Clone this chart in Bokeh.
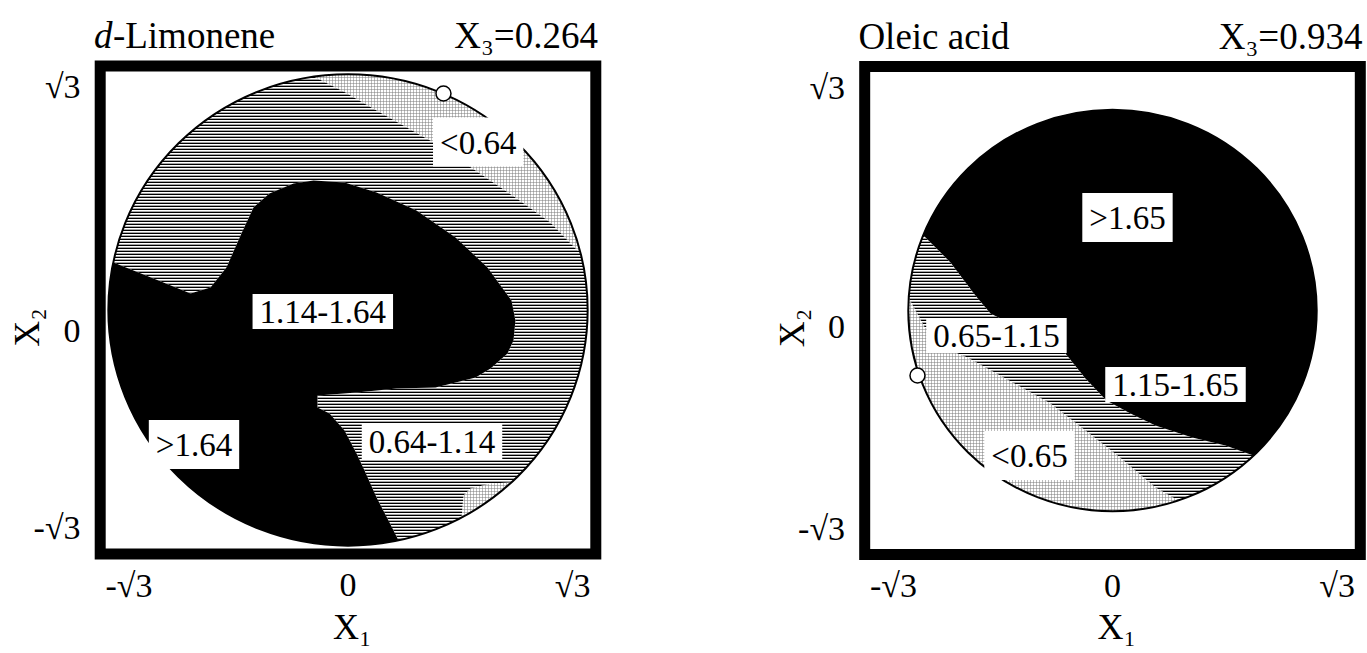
import numpy as np
from bokeh.plotting import figure
from bokeh.layouts import row
from bokeh.models import Range1d
from bokeh.core.properties import value
from bokeh.embed import file_html
from bokeh.resources import INLINE

SERIF = "Liberation Serif"
ROOT3 = np.sqrt(3.0)

# ---------------- d-Limonene, slice at X3 = 0.264 ----------------
lim_x3 = 0.264
lim_levels = ["<0.64", "0.64-1.14", "1.14-1.64", ">1.64"]
lim_label_x = [0.93, 0.60, -0.18, -1.10]
lim_label_y = [1.22, -0.955, -0.01, -0.977]

# edge of the 0.64-1.14 band against the dark core (left rim -> bottom rim)
lim_mid_x = [-1.675, -1.354, -1.125, -0.982, -0.868, -0.761, -0.675, -0.561,
             -0.389, -0.246, -0.025, 0.204, 0.489, 0.768, 0.996, 1.168,
             1.196, 1.182, 1.139, 1.018, 0.911, 0.625, 0.346, 0.061,
             -0.218, -0.218, -0.132, -0.025, 0.061, 0.118, 0.204, 0.289, 0.361]
lim_mid_y = [0.345, 0.214, 0.120, 0.163, 0.309, 0.556, 0.744, 0.846,
             0.919, 0.940, 0.926, 0.853, 0.723, 0.527, 0.309, 0.069,
             -0.076, -0.221, -0.316, -0.425, -0.490, -0.563, -0.570, -0.599,
             -0.621, -0.708, -0.752, -0.875, -1.042, -1.166, -1.362, -1.529, -1.674]

# edge of the <0.64 zone (top rim -> right rim)
lim_low_x = [-0.246, -0.018, 0.204, 0.625, 0.911, 1.196, 1.446, 1.639]
lim_low_y = [1.696, 1.580, 1.449, 1.209, 1.013, 0.817, 0.635, 0.432]

# small <0.64 pocket on the lower-right rim
lim_pocket_x = [1.161, 1.018, 0.875, 0.825, 0.811]
lim_pocket_y = [-1.253, -1.260, -1.296, -1.347, -1.507]

lim_opt_x = [0.682]
lim_opt_y = [1.572]

# ---------------- Oleic acid, slice at X3 = 0.934 ----------------
ole_x3 = 0.934
ole_levels = ["<0.65", "0.65-1.15", "1.15-1.65", ">1.65"]
ole_label_x = [-0.593, -0.829, 0.45, 0.107]
ole_label_y = [-1.053, -0.182, -0.537, 0.675]

# edge of the 0.65-1.15 band against the dark region (right rim -> left rim)
ole_mid_x = [1.007, 0.807, 0.571, 0.307, 0.129, -0.043, -0.193, -0.336,
             -0.586, -0.871, -0.979, -1.157, -1.350]
ole_mid_y = [-1.053, -0.980, -0.922, -0.835, -0.748, -0.654, -0.494, -0.312,
             -0.167, -0.022, 0.109, 0.349, 0.545]

# edge of the <0.65 zone (bottom rim -> left rim)
ole_low_x = [0.471, 0.307, 0.036, -0.193, -0.443, -0.764, -1.036, -1.193,
             -1.329, -1.457]
ole_low_y = [-1.380, -1.285, -1.053, -0.871, -0.675, -0.494, -0.341, -0.276,
             -0.145, 0.094]

ole_opt_x = [-1.393]
ole_opt_y = [-0.472]

# axis tick labels
tick_text = ["-\u221a3", "0", "\u221a3"]

# pixel scale of one coded unit
SX, SY = 140.0, 137.7
H = 653


def zone(cx, cy, radius):
    """Close a boundary curve along the rim, counter-clockwise from its last
    point back to its first."""
    cx, cy = list(cx), list(cy)
    a0 = np.arctan2(cy[-1], cx[-1])
    a1 = np.arctan2(cy[0], cx[0])
    while a1 <= a0:
        a1 += 2 * np.pi
    t = np.linspace(a0, a1, 120)
    return cx + list(radius * np.cos(t)), cy + list(radius * np.sin(t))


def panel(width, cpx, cpy, x3, name, italic_prefix, levels, lab_x, lab_y,
          curves_mid, curves_low, opt_x, opt_y, zero_y):
    p = figure(width=width, height=H, output_backend="svg", toolbar_location=None,
               x_range=Range1d(-cpx / SX, (width - cpx) / SX),
               y_range=Range1d(-(H - cpy) / SY, cpy / SY),
               x_axis_location=None, y_axis_location=None, min_border=0)
    p.grid.grid_line_color = None
    p.outline_line_color = None
    p.background_fill_color = "white"
    p.border_fill_color = "white"

    radius = np.sqrt(3.0 - x3 ** 2)

    # dark core (upper two response classes)
    p.ellipse(x=0, y=0, width=2 * radius, height=2 * radius,
              fill_color="black", line_color=None)
    for cx, cy in curves_mid:
        xs, ys = zone(cx, cy, radius)
        p.patch(xs, ys, fill_color="white", line_color=None,
                hatch_pattern="horizontal_line", hatch_color="black",
                hatch_scale=3, hatch_weight=1.7)
    for cx, cy in curves_low:
        xs, ys = zone(cx, cy, radius)
        p.patch(xs, ys, fill_color="white", line_color=None,
                hatch_pattern="cross", hatch_color="#7a7a7a",
                hatch_scale=3, hatch_weight=0.5)
    p.ellipse(x=0, y=0, width=2 * radius, height=2 * radius,
              fill_color=None, line_color="black", line_width=2)

    # frame
    p.rect(x=0, y=0, width=3.54, height=3.544, fill_color=None,
           line_color="black", line_width=11, line_join="miter")

    # optimum on the rim
    p.scatter(opt_x, opt_y, size=15, marker="circle", fill_color="white",
              line_color="black", line_width=1.5)

    # response class labels
    p.text(x=lab_x, y=lab_y, text=levels, text_font=value(SERIF),
           text_font_size="33px", text_align="center", text_baseline="middle",
           background_fill_color="white",
           padding=dict(left=7, right=7, top=7, bottom=6))

    font = dict(text_font=value(SERIF), text_color="black")
    tick_size = "34px"
    # x ticks
    ty = -2.0
    p.text(x=[-ROOT3], y=[ty], text=[tick_text[0]], text_align="left",
           text_baseline="middle", text_font_size=tick_size, **font)
    p.text(x=[0], y=[ty], text=[tick_text[1]], text_align="center",
           text_baseline="middle", text_font_size=tick_size, **font)
    p.text(x=[ROOT3], y=[ty], text=[tick_text[2]], text_align="right",
           text_baseline="middle", text_font_size=tick_size, **font)
    # y ticks
    tx = -1.91
    p.text(x=[tx] * 3, y=[-1.58, zero_y, 1.62], text=tick_text,
           text_align="right", text_baseline="middle", text_font_size=tick_size, **font)
    # axis titles
    p.text(x=[0.03], y=[-2.30], text=["X\u2081"], text_align="center",
           text_baseline="middle", text_font_size="36px", **font)
    p.text(x=[-2.29], y=[-0.127], text=["X\u2082"], text_align="center",
           text_baseline="middle", text_font_size="36px", angle=np.pi / 2, **font)

    # panel heading
    hx = -1.815
    hy = 1.993
    head_size = "37px"
    if italic_prefix:
        p.text(x=[hx], y=[hy], text=[italic_prefix], text_align="left",
               text_baseline="alphabetic", text_font_size=head_size,
               text_font_style="italic", **font)
        p.text(x=[hx], y=[hy], text=[name], text_align="left", x_offset=19,
               text_baseline="alphabetic", text_font_size=head_size, **font)
    else:
        p.text(x=[hx], y=[hy], text=[name], text_align="left",
               text_baseline="alphabetic", text_font_size=head_size, **font)
    p.text(x=[1.785], y=[hy], text=["X\u2083=%.3f" % x3], text_align="right",
           text_baseline="alphabetic", text_font_size=head_size, **font)
    return p


p1 = panel(683, 347.5, 309.5, lim_x3, "-Limonene", "d", lim_levels,
           lim_label_x, lim_label_y,
           [(lim_mid_x, lim_mid_y)],
           [(lim_low_x, lim_low_y), (lim_pocket_x, lim_pocket_y)],
           lim_opt_x, lim_opt_y, -0.149)
p2 = panel(684, 429.0, 310.0, ole_x3, "Oleic acid", None, ole_levels,
           ole_label_x, ole_label_y,
           [(ole_mid_x, ole_mid_y)],
           [(ole_low_x, ole_low_y)],
           ole_opt_x, ole_opt_y, -0.123)

layout = row(p1, p2)
open("out.html", "w").write(file_html(layout, INLINE))
